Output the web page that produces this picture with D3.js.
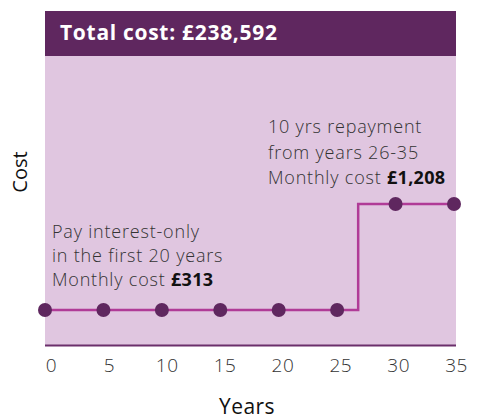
<!DOCTYPE html>
<html>
<head>
<meta charset="utf-8">
<script src="https://cdn.jsdelivr.net/npm/d3@7"></script>
<style>
  html, body { margin: 0; padding: 0; background: #ffffff; }
  svg { display: block; }
  text { font-family: "Open Sans", "Lato", sans-serif; }
</style>
</head>
<body>
<svg id="chart" width="481" height="419"></svg>
<script>
// ---- data ----
const years = [0, 5, 10, 15, 20, 25, 30, 35];
const monthlyCost = [313, 313, 313, 313, 313, 313, 1208, 1208];
const stepYears = [0, 26.8, 35];
const stepCost = [313, 1208, 1208];
const tickLabels = ["0", "5", "10", "15", "20", "25", "30", "35"];
const title = "Total cost: £238,592";
const noteLeft = ["Pay interest-only", "in the first 20 years", ["Monthly cost ", "£313"]];
const noteRight = ["10 yrs repayment", "from years 26-35", ["Monthly cost ", "£1,208"]];

// ---- layout ----
const svg = d3.select("#chart");
const pL = 45, pR = 456, pT = 56, pB = 345;
const x = d3.scaleLinear().domain([0, 35]).range([45, 454]);
const xLabel = d3.scaleLinear().domain([0, 35]).range([51, 456]);
const y = d3.scaleLinear().domain([0, 2450]).range([347, 57]);

// header
svg.append("rect").attr("x", pL).attr("y", 11).attr("width", pR - pL).attr("height", pT - 11)
  .attr("fill", "#5f275f");
svg.append("text").attr("x", 60).attr("y", 40).attr("fill", "#ffffff")
  .attr("font-size", 21).attr("font-weight", 700).attr("letter-spacing", 0.7).text(title);

// plot background
svg.append("rect").attr("x", pL).attr("y", pT).attr("width", pR - pL).attr("height", pB - pT)
  .attr("fill", "#e0c6e0");
svg.append("line").attr("x1", pL).attr("x2", pR).attr("y1", pB + 0.5).attr("y2", pB + 0.5)
  .attr("stroke", "#6b2f6b").attr("stroke-width", 2);

// step line
const stepData = stepYears.map((d, i) => ({ x: d, y: stepCost[i] }));
const line = d3.line().x(d => x(d.x)).y(d => y(d.y)).curve(d3.curveStepAfter);
svg.append("path").datum(stepData).attr("d", line)
  .attr("fill", "none").attr("stroke", "#b03b97").attr("stroke-width", 2.5);

// dots
svg.selectAll("circle.pt").data(years).join("circle").attr("class", "pt")
  .attr("cx", d => x(d)).attr("cy", (d, i) => y(monthlyCost[i])).attr("r", 7)
  .attr("fill", "#5f275f");

// x axis labels
const axis = d3.axisBottom(xLabel).tickValues(years).tickFormat((d, i) => tickLabels[i]).tickSize(0).tickPadding(0);
const ax = svg.append("g").attr("transform", "translate(0,358)").call(axis);
ax.select(".domain").remove();
ax.selectAll("text").attr("font-size", 19).attr("font-weight", 300).attr("fill", "#333")
  .attr("font-family", "'Open Sans', Lato, sans-serif").attr("dy", "0.75em").attr("letter-spacing", 0.5);

// axis titles
svg.append("text").attr("x", 247).attr("y", 414).attr("text-anchor", "middle")
  .attr("font-size", 21).attr("font-weight", 400).attr("fill", "#111").attr("letter-spacing", 0.4).text("Years");
svg.append("text").attr("transform", "translate(27,172) rotate(-90)").attr("text-anchor", "middle")
  .attr("font-size", 20).attr("font-weight", 400).attr("fill", "#111").text("Cost");

// annotations
function note(lines, x0, y0, lh) {
  lines.forEach((ln, i) => {
    const t = svg.append("text").attr("x", x0).attr("y", y0 + i * lh)
      .attr("font-size", 18).attr("font-weight", 300).attr("fill", "#333").attr("letter-spacing", 0.8);
    if (Array.isArray(ln)) {
      t.append("tspan").text(ln[0]);
      t.append("tspan").attr("font-weight", 700).attr("fill", "#111").attr("letter-spacing", 0.3).text(ln[1]);
    } else {
      t.text(ln);
    }
  });
}
note(noteLeft, 52, 238, 24);
note(noteRight, 268, 133, 25.5);
</script>
</body>
</html>
